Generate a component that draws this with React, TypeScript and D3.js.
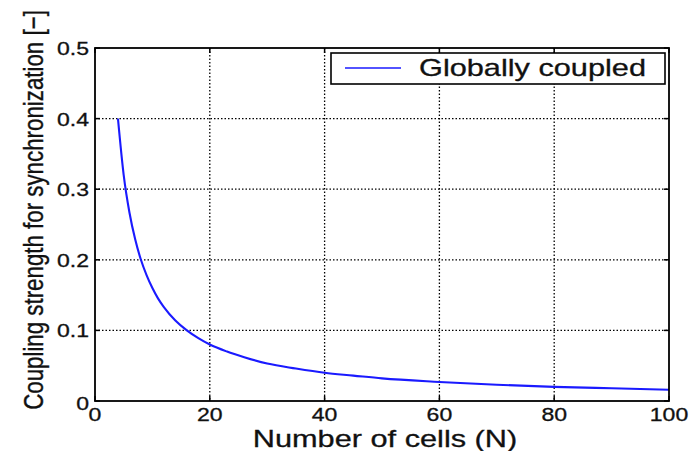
import React from 'react';
import * as d3 from 'd3';

// Critical coupling strength against number of cells (globally coupled network)
const cells = [4, 5, 6, 7, 8, 9, 10, 11, 12, 14, 16, 18, 20, 23, 26, 30, 35, 40, 45, 50, 60, 70, 80, 90, 100];
const coupling = [0.4, 0.32, 0.267, 0.229, 0.2, 0.178, 0.16, 0.145, 0.133, 0.114, 0.1, 0.089, 0.08, 0.07, 0.062, 0.053, 0.046, 0.04, 0.036, 0.032, 0.027, 0.023, 0.02, 0.018, 0.016];

const xTicks = [0, 20, 40, 60, 80, 100];
const xTickLabels = ['0', '20', '40', '60', '80', '100'];
const yTicks = [0, 0.1, 0.2, 0.3, 0.4, 0.5];
const yTickLabels = ['0', '0.1', '0.2', '0.3', '0.4', '0.5'];

const seriesName = 'Globally coupled';
const xTitle = 'Number of cells (N)';
const yTitle = 'Coupling strength for synchronization [\u2212]';

const W = 694;
const H = 451;
const plot = { left: 95, right: 669, top: 48, bottom: 401 };
const FONT = '"Liberation Sans", Arial, Helvetica, sans-serif';
const STRETCH = 1.28;
const INK = '#111';

export default function App() {
  const x = d3.scaleLinear().domain([0, 100]).range([plot.left, plot.right]);
  const y = d3.scaleLinear().domain([0, 0.5]).range([plot.bottom, plot.top]);

  const points: [number, number][] = cells.map((n, i) => [n, coupling[i]]);
  const line = d3
    .line<[number, number]>()
    .x((d) => x(d[0]))
    .y((d) => y(d[1]))
    .curve(d3.curveMonotoneX);

  const tickLen = 5;

  return (
    <svg
      width={W}
      height={H}
      style={{ position: 'absolute', left: 0, top: 0, background: '#fff' }}
      fontFamily={FONT}
    >
      <rect x={0} y={0} width={W} height={H} fill="#fff" />

      {/* grid */}
      <g stroke="#000" strokeWidth={1.3} strokeDasharray="1.5 2">
        {xTicks.slice(1, -1).map((t) => (
          <line key={'gx' + t} x1={x(t)} x2={x(t)} y1={plot.top} y2={plot.bottom} />
        ))}
        {yTicks.slice(1, -1).map((t) => (
          <line key={'gy' + t} x1={plot.left} x2={plot.right} y1={y(t)} y2={y(t)} />
        ))}
      </g>

      {/* inward ticks on all sides */}
      <g stroke="#000" strokeWidth={1.5}>
        {xTicks.map((t) => (
          <g key={'tx' + t}>
            <line x1={x(t)} x2={x(t)} y1={plot.bottom} y2={plot.bottom - tickLen} />
            <line x1={x(t)} x2={x(t)} y1={plot.top} y2={plot.top + tickLen} />
          </g>
        ))}
        {yTicks.map((t) => (
          <g key={'ty' + t}>
            <line x1={plot.left} x2={plot.left + tickLen} y1={y(t)} y2={y(t)} />
            <line x1={plot.right} x2={plot.right - tickLen} y1={y(t)} y2={y(t)} />
          </g>
        ))}
      </g>

      {/* curve */}
      <path d={line(points) || ''} fill="none" stroke="#1a1aff" strokeWidth={2.1} strokeLinejoin="round" />

      {/* axes box */}
      <rect
        x={plot.left}
        y={plot.top}
        width={plot.right - plot.left}
        height={plot.bottom - plot.top}
        fill="none"
        stroke="#000"
        strokeWidth={1.8}
      />

      <g fill={INK} stroke={INK} strokeWidth={0.3}>
        {/* x tick labels */}
        <g fontSize={18}>
          {xTicks.map((t, i) => (
            <text
              key={'lx' + t}
              transform={`translate(${x(t)},${421}) scale(${STRETCH},1)`}
              textAnchor="middle"
            >
              {xTickLabels[i]}
            </text>
          ))}
        </g>

        {/* y tick labels */}
        <g fontSize={18}>
          {yTicks.map((t, i) => (
            <text
              key={'ly' + t}
              transform={`translate(${89},${t === 0 ? 410 : y(t) + 7}) scale(${STRETCH},1)`}
              textAnchor="end"
            >
              {yTickLabels[i]}
            </text>
          ))}
        </g>

        {/* axis titles */}
        <text
          transform={`translate(${385},${447}) scale(${STRETCH},1)`}
          textAnchor="middle"
          fontSize={24}
        >
          {xTitle}
        </text>
        <text
          transform={`translate(${43},${210}) rotate(-90) scale(1,${STRETCH})`}
          textAnchor="middle"
          fontSize={22.3}
        >
          {yTitle}
        </text>
      </g>

      {/* legend */}
      <g>
        <rect x={331} y={53} width={334} height={31} fill="#fff" stroke="#000" strokeWidth={1.6} />
        <line x1={345} x2={401} y1={68} y2={68} stroke="#1a1aff" strokeWidth={1.6} />
        <text
          transform={`translate(${419},${76}) scale(${STRETCH},1)`}
          fontSize={24}
          fill={INK}
          stroke={INK}
          strokeWidth={0.3}
        >
          {seriesName}
        </text>
      </g>
    </svg>
  );
}
